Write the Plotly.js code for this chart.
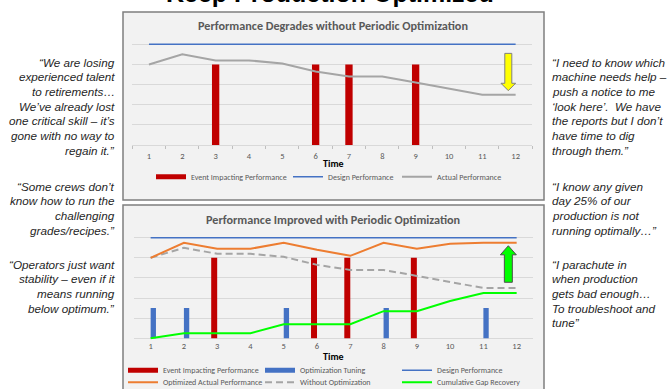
<!DOCTYPE html>
<html>
<head>
<meta charset="utf-8">
<script src="https://cdn.plot.ly/plotly-3.0.1.min.js"></script>
<style>html,body{margin:0;padding:0;background:#fff;overflow:hidden;}#chart{width:668px;height:400px;}</style>
</head>
<body>
<div id="chart"></div>
<script>
// ---------- data ----------
const timeCats = [1, 2, 3, 4, 5, 6, 7, 8, 9, 10, 11, 12];
const designPerf = [100, 100, 100, 100, 100, 100, 100, 100, 100, 100, 100, 100];
const actualPerf = [80, 90, 84, 84, 81, 73, 68, 68, 62, 56, 50, 50];
const eventTimes = [3, 6, 7, 9];
const eventLevel = [80, 80, 80, 80];
const tuningTimes = [1, 2, 5, 8, 11];
const tuningLevel = [30, 30, 30, 30, 30];
const optimizedPerf = [80, 95, 89, 89, 95, 88, 82, 95, 89, 94, 95, 95];
const withoutOpt = [80, 90, 84, 84, 81, 73, 68, 68, 62, 56, 50, 50];
const gapRecovery = [0, 5, 5, 5, 14, 14, 14, 27, 27, 37, 45, 45];

const leftQuotes = [
  ["\u201CWe are losing", "experienced talent", "to retirements\u2026", "We\u2019ve already lost", "one critical skill \u2013 it\u2019s", "gone with no way to", "regain it.\u201D"],
  ["\u201CSome crews don\u2019t", "know how to run the", "challenging", "grades/recipes.\u201D"],
  ["\u201COperators just want", "stability \u2013 even if it", "means running", "below optimum.\u201D"]
];
const rightQuotes = [
  ["\u201CI need to know which", "machine needs help \u2013", "push a notice to me", "\u2018look here\u2019. \u00A0We have", "the reports but I don\u2019t", "have time to dig", "through them.\u201D"],
  ["\u201CI know any given", "day 25% of our", "production is not", "running optimally\u2026\u201D"],
  ["\u201CI parachute in", "when production", "gets bad enough\u2026", "To troubleshoot and", "tune\u201D"]
];

// ---------- layout helpers (pixel positions measured from the top-left) ----------
const W = 668, H = 400;   // page window shows the top 389 px; the slide continues below
const px = v => v / W;
const py = v => 1 - v / H;
const calib = "Carlito, 'Liberation Sans Narrow', 'Arial Narrow', 'Liberation Sans', sans-serif";
const arial = "'Liberation Sans', Arial, sans-serif";
const gridC = '#d9d9d9';
const textGray = '#595959';
const legFont = {family: calib, size: 8, color: textGray};

const traces = [];
// --- top chart ---
traces.push({type: 'scatter', mode: 'lines', x: [null], y: [null], xaxis: 'x', yaxis: 'y',
  name: 'Event Impacting Performance', line: {color: '#C00000', width: 5}, legend: 'legend', legendwidth: 92});
traces.push({type: 'bar', x: eventTimes, y: eventLevel, xaxis: 'x', yaxis: 'y', width: 0.22,
  marker: {color: '#C00000', line: {width: 0}}, showlegend: false});
traces.push({type: 'scatter', mode: 'lines', x: timeCats, y: designPerf, xaxis: 'x', yaxis: 'y',
  name: 'Design Performance', line: {color: '#4472C4', width: 1.5}, legend: 'legend', legendwidth: 64});
traces.push({type: 'scatter', mode: 'lines', x: timeCats, y: actualPerf, xaxis: 'x', yaxis: 'y',
  name: 'Actual Performance', line: {color: '#A5A5A5', width: 2}, legend: 'legend', legendwidth: 90});

// --- bottom chart ---
traces.push({type: 'scatter', mode: 'lines', x: [null], y: [null], xaxis: 'x2', yaxis: 'y2',
  name: 'Event Impacting Performance', line: {color: '#C00000', width: 5}, legend: 'legend2', legendwidth: 92});
traces.push({type: 'scatter', mode: 'lines', x: [null], y: [null], xaxis: 'x2', yaxis: 'y2',
  name: 'Optimization Tuning', line: {color: '#4472C4', width: 5}, legend: 'legend2', legendwidth: 92});
traces.push({type: 'bar', x: eventTimes, y: eventLevel, xaxis: 'x2', yaxis: 'y2', width: 0.18, offset: -0.18,
  marker: {color: '#C00000', line: {width: 0}}, showlegend: false});
traces.push({type: 'bar', x: tuningTimes, y: tuningLevel, xaxis: 'x2', yaxis: 'y2', width: 0.16, offset: 0,
  marker: {color: '#4472C4', line: {width: 0}}, showlegend: false});
traces.push({type: 'scatter', mode: 'lines', x: timeCats, y: designPerf, xaxis: 'x2', yaxis: 'y2',
  name: 'Design Performance', line: {color: '#4472C4', width: 1.5}, legend: 'legend2', legendwidth: 100});
traces.push({type: 'scatter', mode: 'lines', x: timeCats, y: withoutOpt, xaxis: 'x2', yaxis: 'y2',
  name: 'Without Optimization', line: {color: '#A5A5A5', width: 2, dash: '7px,4px'}, legend: 'legend3', legendwidth: 92, legendrank: 2});
traces.push({type: 'scatter', mode: 'lines', x: timeCats, y: optimizedPerf, xaxis: 'x2', yaxis: 'y2',
  name: 'Optimized Actual Performance', line: {color: '#ED7D31', width: 2}, legend: 'legend3', legendwidth: 92, legendrank: 1});
traces.push({type: 'scatter', mode: 'lines', x: timeCats, y: gapRecovery, xaxis: 'x2', yaxis: 'y2',
  name: 'Cumulative Gap Recovery', line: {color: '#00FF00', width: 2}, legend: 'legend3', legendwidth: 110, legendrank: 3});

// ---------- arrows (annotation glyphs) ----------
function blockArrow(cx, sw, hw, tail, base, tip) {
  return 'M' + (cx - sw) + ',' + tail + ' L' + (cx + sw) + ',' + tail + ' L' + (cx + sw) + ',' + base +
    ' L' + (cx + hw) + ',' + base + ' L' + cx + ',' + tip + ' L' + (cx - hw) + ',' + base +
    ' L' + (cx - sw) + ',' + base + ' Z';
}
const downArrow = {cx: 11.78, tail: 91, base: 61.3, tip: 54};
const upArrow = {cx: 11.75, tail: 55.7, base: 83, tip: 92};

const shapes = [
  {type: 'rect', xref: 'paper', yref: 'paper', x0: px(123), x1: px(544), y0: py(200), y1: py(12),
    fillcolor: '#F2F2F2', line: {color: '#7F7F7F', width: 1.5}, layer: 'below'},
  {type: 'rect', xref: 'paper', yref: 'paper', x0: px(123), x1: px(544), y0: py(398), y1: py(205),
    fillcolor: '#F2F2F2', line: {color: '#7F7F7F', width: 1.5}, layer: 'below'},
  {type: 'path', xref: 'x', yref: 'y', path: blockArrow(downArrow.cx, 0.105, 0.22, downArrow.tail, downArrow.base, downArrow.tip),
    fillcolor: '#FFFF00', line: {color: '#7F7F7F', width: 1}},
  {type: 'path', xref: 'x2', yref: 'y2', path: blockArrow(upArrow.cx, 0.12, 0.24, upArrow.tail, upArrow.base, upArrow.tip),
    fillcolor: '#00FF00', line: {color: '#4d4d4d', width: 1}}
];

const annotations = [
  {text: '<b>Keep Production Optimized</b>', xref: 'paper', yref: 'paper', x: px(330), y: py(-7),
    xanchor: 'center', yanchor: 'middle', showarrow: false, font: {family: arial, size: 25, color: '#000'}},
  {text: 'Performance Degrades without Periodic Optimization', xref: 'paper', yref: 'paper', x: px(333), y: py(26),
    xanchor: 'center', yanchor: 'middle', showarrow: false, font: {family: calib, size: 12.2, color: textGray, weight: 'bold'}},
  {text: 'Performance Improved with Periodic Optimization', xref: 'paper', yref: 'paper', x: px(333), y: py(219),
    xanchor: 'center', yanchor: 'middle', showarrow: false, font: {family: calib, size: 12.2, color: textGray, weight: 'bold'}},
  {text: 'Time', xref: 'paper', yref: 'paper', x: px(333), y: py(163.5), xanchor: 'center', yanchor: 'middle',
    showarrow: false, font: {family: calib, size: 10, color: '#000', weight: 'bold'}},
  {text: 'Time', xref: 'paper', yref: 'paper', x: px(333), y: py(356), xanchor: 'center', yanchor: 'middle',
    showarrow: false, font: {family: calib, size: 10, color: '#000', weight: 'bold'}}
];
const paraStarts = [62, 186, 264];
const lineStep = 14.7;
const quoteFont = {family: arial, size: 11.7, color: '#262626', style: 'italic'};
function addQuotes(paras, xPix, anchor) {
  paras.forEach((lines, p) => {
    lines.forEach((t, i) => {
      annotations.push({text: t, xref: 'paper', yref: 'paper', x: px(xPix), y: py(paraStarts[p] + i * lineStep),
        xanchor: anchor, yanchor: 'middle', align: anchor, showarrow: false, font: quoteFont});
    });
  });
}
addQuotes(leftQuotes, 117, 'right');
addQuotes(rightQuotes, 550, 'left');

const legBase = {orientation: 'h', xanchor: 'left', yanchor: 'top', bgcolor: 'rgba(0,0,0,0)', borderwidth: 0,
  font: legFont, itemclick: false, itemdoubleclick: false, itemwidth: 30, traceorder: 'normal'};

const layout = {
  width: W, height: H, margin: {l: 0, r: 0, t: 0, b: 0, autoexpand: false},
  paper_bgcolor: '#ffffff', plot_bgcolor: 'rgba(0,0,0,0)',
  barmode: 'overlay', showlegend: true, hovermode: false,
  xaxis: {domain: [px(132.3), px(532.3)], anchor: 'y', range: [0.5, 12.5], tickvals: timeCats, ticks: '',
    showgrid: false, zeroline: false, showline: true, linecolor: gridC, linewidth: 1, ticklabelstandoff: 3,
    minor: {tickmode: 'linear', tick0: 0.5, dtick: 1, ticks: 'outside', ticklen: 3, tickcolor: '#bfbfbf', showgrid: false},
    tickfont: {family: calib, size: 8.5, color: textGray}, fixedrange: true},
  yaxis: {domain: [py(145), py(42.3)], anchor: 'x', range: [0, 102], tick0: 0, dtick: 20, showticklabels: false,
    gridcolor: gridC, gridwidth: 1, zeroline: false, showline: false, ticks: '', fixedrange: true},
  xaxis2: {domain: [px(134), px(533.3)], anchor: 'y2', range: [0.5, 12.5], tickvals: timeCats, ticks: '',
    showgrid: false, zeroline: false, showline: false,
    tickfont: {family: calib, size: 8.5, color: textGray}, fixedrange: true},
  yaxis2: {domain: [py(339.8), py(235.7)], anchor: 'x2', range: [-1.5, 102], tick0: 0, dtick: 20, showticklabels: false,
    gridcolor: gridC, gridwidth: 1, zeroline: true, zerolinecolor: gridC, zerolinewidth: 1, showline: false, ticks: '', fixedrange: true},
  legend: Object.assign({}, legBase, {x: px(151), y: py(176.7 - 14.5)}),
  legend2: Object.assign({}, legBase, {x: px(123), y: py(370.3 - 14.5)}),
  legend3: Object.assign({}, legBase, {x: px(123), y: py(382.3 - 14.5)}),
  shapes: shapes,
  annotations: annotations
};

Plotly.newPlot('chart', traces, layout, {displayModeBar: false, staticPlot: true});
</script>
</body>
</html>
